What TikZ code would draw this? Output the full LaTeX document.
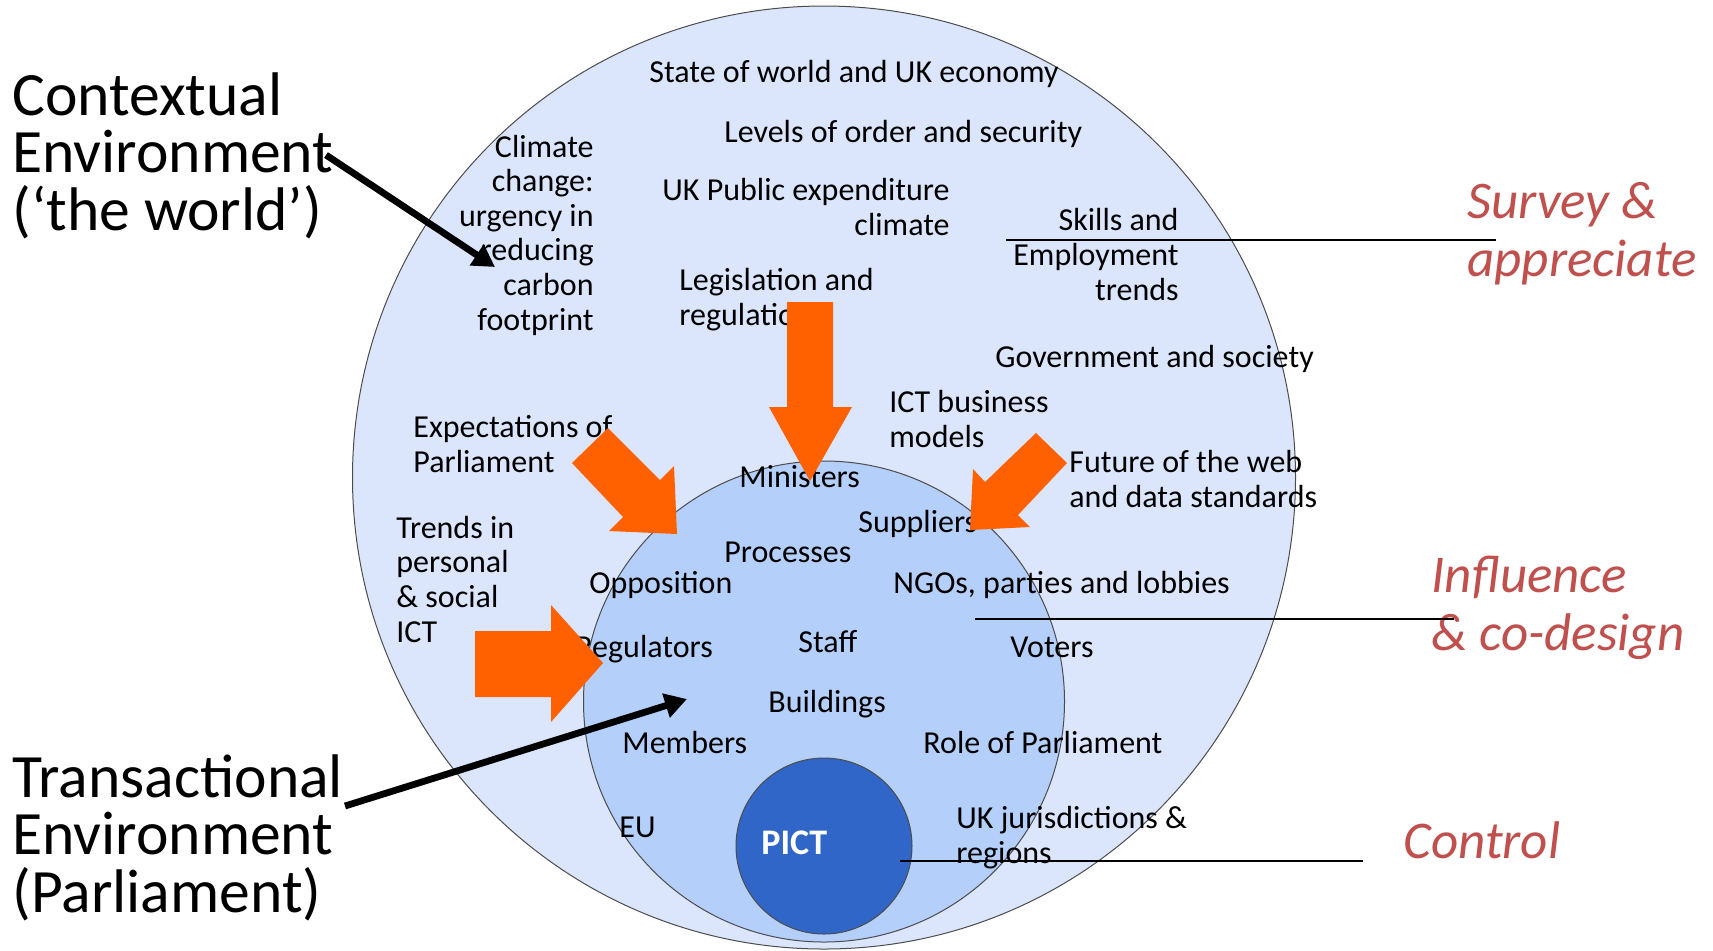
\documentclass[tikz,border=0pt]{standalone}
\usepackage{fontspec}
\setmainfont{Carlito}
\usetikzlibrary{backgrounds,arrows.meta}
\definecolor{worldblue}{RGB}{219,230,252}
\definecolor{parlblue}{RGB}{180,207,250}
\definecolor{pictblue}{RGB}{49,102,201}
\definecolor{pushorange}{RGB}{255,96,0}
\definecolor{modered}{RGB}{192,80,77}

\begin{document}
\begin{tikzpicture}[x=0.5pt,y=-0.5pt,ring/.style={draw=black!70,line width=0.5pt,circle,inner sep=0pt}]

    % `item' is used for the small labels inside the rings.
    % `title' is used for the two big labels on the left.
    % `mode' is used for the red labels on the right.
    % Multi-line labels sit on the baseline of their last line.
    \tikzstyle{item} = [font=\fontsize{16}{17.3}\selectfont,inner sep=0pt,anchor=base west,align=left]
    \tikzstyle{itemr} = [item,anchor=base east,align=right]
    \tikzstyle{title} = [font=\fontsize{30.8}{28.75}\selectfont,inner sep=0pt,anchor=base west,align=left]
    \tikzstyle{mode} = [font=\fontsize{26.5}{28.75}\selectfont\itshape,text=modered,inner sep=0pt,anchor=base west,align=left]
    \tikzstyle{push} = [fill=pushorange]
    \tikzstyle{pointer} = [line width=3.4pt,-{Triangle[length=11pt,width=12pt]}]
    \tikzstyle{divider} = [line width=1.2pt]
    %
    \useasboundingbox (0,0) rectangle (1713,950);

    \begin{pgfonlayer}{background}
        % Rings.
        \node[ring,fill=worldblue,minimum size=471.5pt] (world) at (824,477.5) {};
        \node[ring,fill=parlblue,minimum size=240.5pt] (parl) at (824,701.5) {};
        \node[ring,fill=pictblue,minimum size=88pt] (pict) at (824,846) {};
    \end{pgfonlayer}

    % Contextual environment.
    \node[item] (economy) at (649,82) {State of world and UK economy};
    \node[item] (order) at (724,142) {Levels of order and security};
    \node[itemr] (climate) at (594,330) {Climate\\change:\\urgency in\\reducing\\carbon\\footprint};
    \node[itemr] (spend) at (950,235) {UK Public expenditure\\climate};
    \node[item] (legis) at (679,325) {Legislation and\\regulation};
    \node[itemr] (skills) at (1179,300) {Skills and\\Employment\\trends};
    \node[item] (govt) at (995,367) {Government and society};
    \node[item] (ictbm) at (889,447) {ICT business\\models};
    \node[item] (web) at (1069,507) {Future of the web\\and data standards};
    \node[item] (expect) at (413,472) {Expectations of\\Parliament};
    \node[item] (trends) at (396,642) {Trends in\\personal\\\& social\\ICT};

    % Transactional environment.
    \node[item] (ministers) at (739,487) {Ministers};
    \node[item] (suppliers) at (858,532) {Suppliers};
    \node[item] (processes) at (724,562) {Processes};
    \node[item] (opposition) at (589,593) {Opposition};
    \node[item] (ngos) at (893,593) {NGOs, parties and lobbies};
    \node[item] (staff) at (798,652) {Staff};
    \node[item] (regulators) at (575,657) {Regulators};
    \node[item] (voters) at (1010,657) {Voters};
    \node[item] (buildings) at (768,712) {Buildings};
    \node[item] (members) at (622,753) {Members};
    \node[item] (role) at (923,753) {Role of Parliament};
    \node[item] (ukj) at (956,863) {UK jurisdictions \&\\regions};
    \node[item] (eu) at (619,837) {EU};
    \node[item,font=\fontsize{18}{20}\selectfont\bfseries,text=white] (picttext) at (761,854) {PICT};

    % Big labels.
    \node[title] (ctx) at (12,230) {Contextual\\Environment\\(‘the world’)};
    \node[title] (trans) at (12,912) {Transactional\\Environment\\(Parliament)};
    \node[mode] (survey) at (1467,276) {Survey \&\\appreciate};
    \node[mode] (influence) at (1431,650) {Influence\\\& co-design};
    \node[mode] (control) at (1403,858) {Control};

    % Orange pushes.
    \fill[push] (787,302) -- (833,302) -- (833,407) -- (852,407) -- (810,481) -- (769,407) -- (787,407) -- cycle;
    \fill[push] (608,428) -- (660,480) -- (674,466) -- (677,534) -- (609,531) -- (623,517) -- (572,463) -- cycle;
    \fill[push] (1036,433) -- (1067,463) -- (1018,515) -- (1030,527) -- (970,530) -- (973,469) -- (985,482) -- cycle;
    \fill[push] (475,631) -- (551,631) -- (551,605) -- (603,663) -- (551,722) -- (551,697) -- (475,697) -- cycle;

    % Pointers and dividers.
    \coordinate (ctxout) at (326,155);
    \coordinate (ctxin) at (495,267);
    \coordinate (transout) at (345,806);
    \coordinate (transin) at (687,699);
    \draw[pointer] (ctxout) -- (ctxin);
    \draw[pointer] (transout) -- (transin);
    \coordinate (s1) at (1006,240);
    \coordinate (s2) at (1496,240);
    \coordinate (i1) at (975,619);
    \coordinate (i2) at (1454,619);
    \coordinate (c1) at (900,861);
    \coordinate (c2) at (1363,861);
    \draw[divider] (s1) -- (s2) (i1) -- (i2) (c1) -- (c2);
    %
\end{tikzpicture}
\end{document}
